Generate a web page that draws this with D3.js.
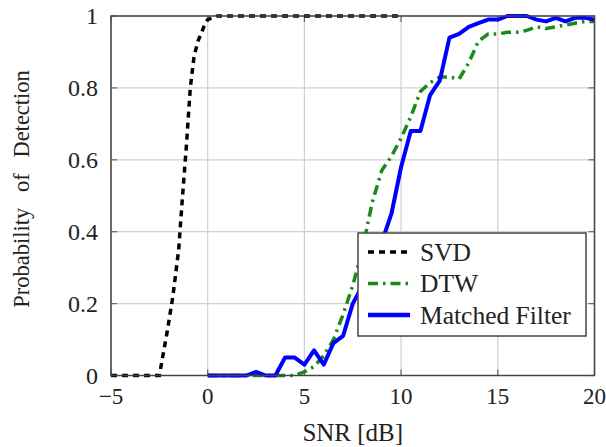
<!DOCTYPE html>
<html lang="en">
<head>
<meta charset="UTF-8">
<title>Probability of Detection vs SNR</title>
<script src="https://d3js.org/d3.v7.min.js"></script>
<style>
  body { margin: 0; background: #fff; }
  svg text { fill: #222; font-family: "Liberation Serif", "Times New Roman", Times, "DejaVu Serif", serif; }
</style>
</head>
<body>
<div id="chart"></div>
<script>
// SNR grids (dB)
const svdSnr = [-5, -4.5, -4, -3.5, -3, -2.5, -2.1, -1.8, -1.5, -1.3, -1.1, -0.9, -0.7, -0.5, -0.2, 0, 0.5, 1, 2, 4, 6, 8, 10];
const svdPd  = [0, 0, 0, 0, 0, 0, 0.12, 0.22, 0.35, 0.5, 0.64, 0.8, 0.89, 0.93, 0.97, 0.99, 1, 1, 1, 1, 1, 1, 1];

const snr = [0, 0.5, 1, 1.5, 2, 2.5, 3, 3.5, 4, 4.5, 5, 5.5, 6, 6.5, 7, 7.5, 8, 8.5, 9, 9.5,
             10, 10.5, 11, 11.5, 12, 12.5, 13, 13.5, 14, 14.5, 15, 15.5, 16, 16.5, 17, 17.5, 18, 18.5, 19, 19.5, 20];
const dtwPd = [0, 0, 0, 0, 0, 0, 0, 0, 0, 0, 0.01, 0.025, 0.055, 0.1, 0.17, 0.25, 0.35, 0.48, 0.57, 0.61,
               0.66, 0.72, 0.79, 0.815, 0.83, 0.83, 0.825, 0.87, 0.93, 0.95, 0.95, 0.955, 0.955, 0.96, 0.97, 0.965, 0.97, 0.975, 0.98, 0.985, 0.985];
const mfPd  = [0, 0, 0, 0, 0, 0.01, 0, 0, 0.05, 0.05, 0.03, 0.07, 0.03, 0.09, 0.11, 0.2, 0.25, 0.3, 0.37, 0.45,
               0.58, 0.68, 0.68, 0.78, 0.82, 0.94, 0.95, 0.97, 0.98, 0.99, 0.99, 1, 1, 1, 0.99, 0.985, 0.995, 0.985, 0.995, 0.995, 0.99];

const xTicks = [-5, 0, 5, 10, 15, 20];
const yTicks = [0, 0.2, 0.4, 0.6, 0.8, 1];
const yTickLabels = ["0", "0.2", "0.4", "0.6", "0.8", "1"];

const width = 606, height = 447;
const margin = { top: 16, right: 11.5, bottom: 71.5, left: 111 };
const iw = width - margin.left - margin.right;
const ih = height - margin.top - margin.bottom;

const svg = d3.select("#chart").append("svg")
    .attr("width", width)
    .attr("height", height);

const g = svg.append("g").attr("transform", `translate(${margin.left},${margin.top})`);

const x = d3.scaleLinear().domain([-5, 20]).range([0, iw]);
const y = d3.scaleLinear().domain([0, 1]).range([ih, 0]);

// grid
g.append("g").selectAll("line").data(xTicks).enter().append("line")
    .attr("x1", d => x(d)).attr("x2", d => x(d))
    .attr("y1", 0).attr("y2", ih)
    .attr("stroke", "#d0d0d0").attr("stroke-width", 1.2);
g.append("g").selectAll("line").data(yTicks).enter().append("line")
    .attr("y1", d => y(d)).attr("y2", d => y(d))
    .attr("x1", 0).attr("x2", iw)
    .attr("stroke", "#d0d0d0").attr("stroke-width", 1.2);

// inward ticks on all four sides
const tk = 6;
const tickG = g.append("g").attr("stroke", "#666").attr("stroke-width", 1.2);
xTicks.forEach(t => {
    tickG.append("line").attr("x1", x(t)).attr("x2", x(t)).attr("y1", ih).attr("y2", ih - tk);
    tickG.append("line").attr("x1", x(t)).attr("x2", x(t)).attr("y1", 0).attr("y2", tk);
});
yTicks.forEach(t => {
    tickG.append("line").attr("y1", y(t)).attr("y2", y(t)).attr("x1", 0).attr("x2", tk);
    tickG.append("line").attr("y1", y(t)).attr("y2", y(t)).attr("x1", iw).attr("x2", iw - tk);
});

// series
const line = d3.line().x(d => x(d[0])).y(d => y(d[1]));

g.append("path")
    .datum(svdSnr.map((s, i) => [s, svdPd[i]]))
    .attr("d", line)
    .attr("fill", "none")
    .attr("stroke", "#000")
    .attr("stroke-width", 3.5)
    .attr("stroke-dasharray", "6,5");

g.append("path")
    .datum(snr.map((s, i) => [s, dtwPd[i]]))
    .attr("d", line)
    .attr("fill", "none")
    .attr("stroke", "#1a8a1a")
    .attr("stroke-width", 3.5)
    .attr("stroke-dasharray", "10,5,2.5,5");

g.append("path")
    .datum(snr.map((s, i) => [s, mfPd[i]]))
    .attr("d", line)
    .attr("fill", "none")
    .attr("stroke", "#0000ff")
    .attr("stroke-width", 4)
    .attr("stroke-linejoin", "round");

// frame
g.append("rect")
    .attr("width", iw).attr("height", ih)
    .attr("fill", "none").attr("stroke", "#444").attr("stroke-width", 1.5);

// tick labels
g.append("g").selectAll("text").data(xTicks).enter().append("text")
    .attr("x", d => x(d)).attr("y", ih + 28)
    .attr("text-anchor", "middle")
    .style("font-size", "23px")
    .text(d => d < 0 ? "\u2212" + Math.abs(d) : d);

g.append("g").selectAll("text").data(yTicks).enter().append("text")
    .attr("x", -13).attr("y", d => y(d) + 8)
    .attr("text-anchor", "end")
    .style("font-size", "24px")
    .text((d, i) => yTickLabels[i]);

// axis labels
svg.append("text")
    .attr("x", margin.left + x(7.5)).attr("y", 441)
    .attr("text-anchor", "middle")
    .style("font-size", "25px")
    .text("SNR [dB]");

svg.append("text")
    .attr("transform", "translate(29,189) rotate(-90)")
    .attr("text-anchor", "middle")
    .style("font-size", "22.5px")
    .text("Probability\u2002\u2009of\u2002\u2009Detection");

// legend
const legend = [
    { name: "SVD", color: "#000", dash: "6,5", w: 3.5 },
    { name: "DTW", color: "#1a8a1a", dash: "10,5,2.5,5", w: 3.5 },
    { name: "Matched Filter", color: "#0000ff", dash: null, w: 4.5 }
];
const lg = svg.append("g").attr("transform", "translate(358,233)");
lg.append("rect")
    .attr("width", 228).attr("height", 103)
    .attr("fill", "#fff").attr("stroke", "#444").attr("stroke-width", 1.5);
legend.forEach((d, i) => {
    const cy = 19 + i * 31.5;
    lg.append("line")
        .attr("x1", 10).attr("x2", 52).attr("y1", cy).attr("y2", cy)
        .attr("stroke", d.color).attr("stroke-width", d.w)
        .attr("stroke-dasharray", d.dash);
    lg.append("text")
        .attr("x", 62).attr("y", cy + 8.5)
        .style("font-size", "25.5px")
        .text(d.name);
});
</script>
</body>
</html>
